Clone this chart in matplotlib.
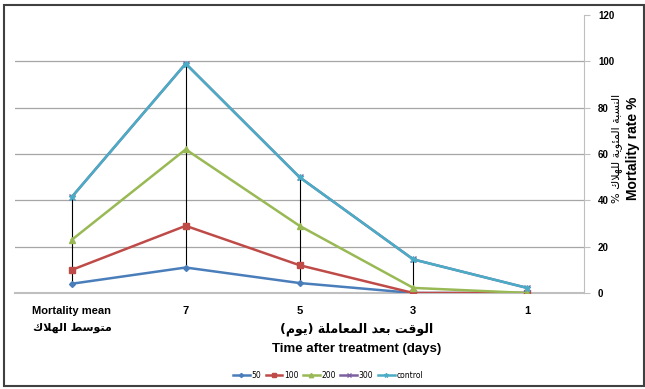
import matplotlib.pyplot as plt
from matplotlib.patches import Rectangle
import numpy as np

# categories and series
categories = ['Mortality mean', '7', '5', '3', '1']
s50 = [4, 11, 4.3, 0, 0]
s100 = [10, 29, 12, 0, 0]
s200 = [23, 62, 29, 2.2, 0]
s300 = [41.5, 99, 50, 14.5, 2.2]
control = [41.5, 99, 50, 14.5, 2.2]

# --- tiny arabic shaper (matplotlib does no shaping / bidi) ---
FORMS = {
    'ا': (0xFE8D, 0xFE8E, None, None), 'ب': (0xFE8F, 0xFE90, 0xFE91, 0xFE92),
    'ة': (0xFE93, 0xFE94, None, None), 'ت': (0xFE95, 0xFE96, 0xFE97, 0xFE98),
    'د': (0xFEA9, 0xFEAA, None, None), 'س': (0xFEB1, 0xFEB2, 0xFEB3, 0xFEB4),
    'ط': (0xFEC1, 0xFEC2, 0xFEC3, 0xFEC4), 'ع': (0xFEC9, 0xFECA, 0xFECB, 0xFECC),
    'ق': (0xFED5, 0xFED6, 0xFED7, 0xFED8), 'ك': (0xFED9, 0xFEDA, 0xFEDB, 0xFEDC),
    'ل': (0xFEDD, 0xFEDE, 0xFEDF, 0xFEE0), 'م': (0xFEE1, 0xFEE2, 0xFEE3, 0xFEE4),
    'ن': (0xFEE5, 0xFEE6, 0xFEE7, 0xFEE8), 'ه': (0xFEE9, 0xFEEA, 0xFEEB, 0xFEEC),
    'و': (0xFEED, 0xFEEE, None, None), 'ي': (0xFEF1, 0xFEF2, 0xFEF3, 0xFEF4),
    'ئ': (0xFE89, 0xFE8A, 0xFE8B, 0xFE8C),
    'لا': (0xFEFB, 0xFEFC, None, None),
}


def shape(text):
    # split into units, merging lam-alef
    units = []
    i = 0
    while i < len(text):
        if text[i] == 'ل' and i + 1 < len(text) and text[i + 1] == 'ا':
            units.append('لا')
            i += 2
        else:
            units.append(text[i])
            i += 1
    out = []
    for k, u in enumerate(units):
        if u not in FORMS:
            out.append({'(': ')', ')': '('}.get(u, u))
            continue
        prev = units[k - 1] if k > 0 else None
        nxt = units[k + 1] if k + 1 < len(units) else None
        jp = prev in FORMS and FORMS[prev][2] is not None
        jn = nxt in FORMS and FORMS[u][2] is not None
        f = FORMS[u]
        if jp and jn:
            c = f[3]
        elif jp:
            c = f[1]
        elif jn:
            c = f[2]
        else:
            c = f[0]
        out.append(chr(c))
    return ''.join(reversed(out))


fig = plt.figure(figsize=(6.45, 3.89), dpi=100)
ax = fig.add_axes([15 / 645, 96 / 389, 569 / 645, 278 / 389])

x = np.arange(len(categories))
allv = np.array([s50, s100, s200, s300, control])
ax.vlines(x, allv.min(axis=0), allv.max(axis=0), color='black', lw=0.8, zorder=2)

styles = [
    ('50', s50, '#4A7EBB', 'D', 3),
    ('100', s100, '#BE4B48', 's', 4.5),
    ('200', s200, '#98B954', '^', 4.5),
    ('300', s300, '#7D60A0', 'x', 4),
    ('control', control, '#4BACC6', '*', 4.5),
]
for name, vals, col, mk, ms in styles:
    ax.plot(x, vals, color=col, marker=mk, ms=ms, lw=1.8, label=name, zorder=3)

ax.set_xlim(-0.5, len(categories) - 0.5)
ax.set_ylim(0, 120)
ax.set_yticks(range(0, 121, 20))
ax.yaxis.tick_right()
ax.yaxis.grid(True, color='#A6A6A6', lw=0.9)
ax.get_ygridlines()[-1].set_visible(False)
ax.set_axisbelow(True)
for s in ['top', 'left']:
    ax.spines[s].set_visible(False)
ax.spines['right'].set_color('#BFBFBF')
ax.spines['bottom'].set_color('#BFBFBF')
ax.spines['bottom'].set_linewidth(1.5)
ax.tick_params(axis='y', length=4, color='#BFBFBF', labelsize=7, pad=6)
ax.tick_params(axis='x', length=0, labelsize=8, pad=9)
ax.set_xticks(x)
ax.set_xticklabels(categories, fontweight='bold', family='Liberation Sans')
for t in ax.get_yticklabels():
    t.set_fontweight('bold')
    t.set_family('Liberation Sans')

fig.text(72 / 645, 1 - 328 / 389, shape('متوسط الهلاك'), ha='center', va='center',
         fontsize=8, fontweight='bold', family='DejaVu Sans')
fig.text(357 / 645, 1 - 329 / 389, shape('الوقت بعد المعاملة (يوم)'), ha='center', va='center',
         fontsize=9, fontweight='bold', family='DejaVu Sans')
fig.text(357 / 645, 1 - 349 / 389, 'Time after treatment (days)', ha='center', va='center',
         fontsize=9.5, fontweight='bold', family='Liberation Sans')
fig.text(617 / 645, 1 - 148 / 389, shape('النسبة المئوية للهلاك %'), ha='center', va='center',
         rotation=90, fontsize=8, family='DejaVu Sans')
fig.text(633 / 645, 1 - 148 / 389, 'Mortality rate %', ha='center', va='center',
         rotation=90, fontsize=10, fontweight='bold', family='Liberation Sans')

fig.legend(loc='center', bbox_to_anchor=(328 / 645, 1 - 375 / 389), ncol=5, frameon=False,
           fontsize=5.5, handlelength=2.2, columnspacing=0.6, handletextpad=0.2, markerscale=0.7)

fig.patches.append(Rectangle((4 / 645, 3 / 389), 640 / 645, 381 / 389, transform=fig.transFigure,
                             fill=False, edgecolor='#404040', lw=1.5))

plt.savefig('out.png', dpi=100)
